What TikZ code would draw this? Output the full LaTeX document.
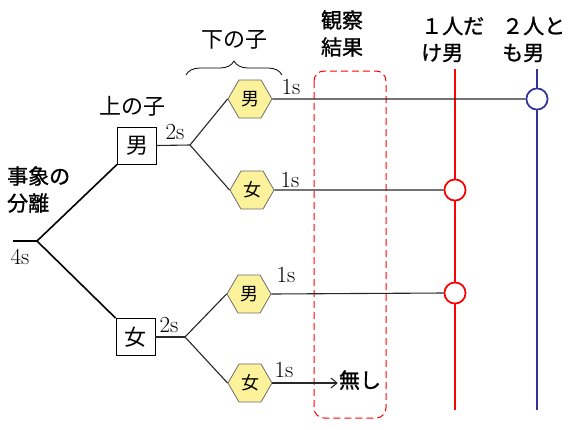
\documentclass[tikz,border=0pt]{standalone}
\usepackage{fontspec}
\newfontfamily\jp{Noto Sans CJK JP}
\newfontfamily\jpb[FakeBold=1.2]{Noto Sans CJK JP}
\usetikzlibrary{shapes.geometric,decorations.pathreplacing,arrows.meta}
\definecolor{hexfill}{RGB}{252,242,155}
\definecolor{hexdraw}{RGB}{110,110,110}
\definecolor{myblue}{RGB}{51,51,153}
\definecolor{lineg}{RGB}{40,40,40}
\begin{document}
\begin{tikzpicture}[x=1pt,y=-1pt,
  jtext/.style={font=\jp\fontsize{22}{24}\selectfont, inner sep=0pt},
  jhead/.style={font=\jpb\fontsize{21}{24}\selectfont, inner sep=0pt},
  num/.style={font=\fontsize{23}{25}\selectfont\addfontfeatures{FakeBold=0.6}, inner sep=0pt},
  gbox/.style={draw, line width=0.8pt, minimum width=39pt, minimum height=37pt, inner sep=0pt, font=\jp\fontsize{22}{24}\selectfont},
  hexn/.style={regular polygon, regular polygon sides=6, minimum size=44pt, inner sep=0pt, draw=hexdraw, fill=hexfill, line width=0.8pt, font=\jp\fontsize{18}{20}\selectfont},
  ring/.style={circle, draw, fill=white, line width=1.6pt, minimum size=21pt, inner sep=0pt},
  trunk/.style={line width=1.6pt, black},
  twig/.style={line width=1.1pt, lineg}]
\useasboundingbox (0,0) rectangle (570,429);

% root and first level
\coordinate (r0) at (13,241);
\coordinate (r) at (37,241);
\node[gbox] (bm) at (137,145.5) {男};
\node[gbox] (bf) at (135.5,337) {女};
\draw[trunk] (r0) -- (r);
\draw[trunk] (r) -- (bm.south west);
\draw[trunk] (r) -- (bf.north west);

% second level
\coordinate (b1) at (190,145);
\coordinate (b2) at (185,337);
\node[hexn] (hm1) at (250,99) {男};
\node[hexn] (hf1) at (252,190) {女};
\node[hexn] (hm2) at (249,294) {男};
\node[hexn] (hf2) at (250,383) {女};
\draw[twig] (bm.east) -- (b1);
\draw[twig] (b1) -- (hm1.west);
\draw[twig] (b1) -- (hf1.west);
\draw[twig] (bf.east) -- (b2);
\draw[twig] (b2) -- (hm2.west);
\draw[twig] (b2) -- (hf2.west);

% observation box
\draw[red, line width=1pt, dash pattern=on 7pt off 4pt, rounded corners=10pt] (314,71) rectangle (386,418);

% vertical lines
\coordinate (rt) at (455,69);
\coordinate (rb) at (455,410);
\coordinate (bt) at (537,69);
\coordinate (bb) at (537,410);
\draw[red, line width=1.8pt] (rt) -- (rb);
\draw[myblue, line width=1.8pt] (bt) -- (bb);

% horizontal outcome lines
\node[ring, draw=myblue] (c1) at (537,99) {};
\node[ring, draw=red] (c2) at (455,190) {};
\node[ring, draw=red] (c3) at (455,293) {};
\node[font=\jpb\fontsize{21}{24}\selectfont, inner sep=1pt] (nash) at (360,380) {無し};
\draw[twig] (hm1.east) -- (c1.west);
\draw[twig] (hf1.east) -- (c2.west);
\draw[twig] (hm2.east) -- (c3.west);
\draw[twig, -{Straight Barb[length=6pt,width=10pt]}] (hf2.east) -- (hf2.east -| nash.west);
\node[ring, draw=myblue] at (c1) {};
\node[ring, draw=red] at (c2) {};
\node[ring, draw=red] at (c3) {};

% brace
\draw[line width=0.8pt, decorate, decoration={brace, amplitude=14pt}] (186,75) -- (282,75);

% labels
\node[num] (t4) at (20,257) {4s};
\node[num] (t2a) at (175,132) {2s};
\node[num] (t2b) at (169,325) {2s};
\node[num] (t1a) at (291,87) {1s};
\node[num] (t1b) at (290,180) {1s};
\node[num] (t1c) at (286,275) {1s};
\node[num] (t1d) at (284,370) {1s};
\node[jhead, anchor=west] (l1) at (7,176) {事象の};
\node[jhead, anchor=west] (l2) at (7,203) {分離};
\node[jtext] (ue) at (132,106) {上の子};
\node[jtext] (shita) at (234,40) {下の子};
\node[jhead] (k1) at (342,20) {観察};
\node[jhead] (k2) at (342,47) {結果};
\node[jhead, anchor=west] (o1) at (421,26) {１人だ};
\node[jhead, anchor=west] (o2) at (421,53) {け男};
\node[jhead, anchor=west] (w1) at (502,26) {２人と};
\node[jhead, anchor=west] (w2) at (502,53) {も男};
\end{tikzpicture}
\end{document}
